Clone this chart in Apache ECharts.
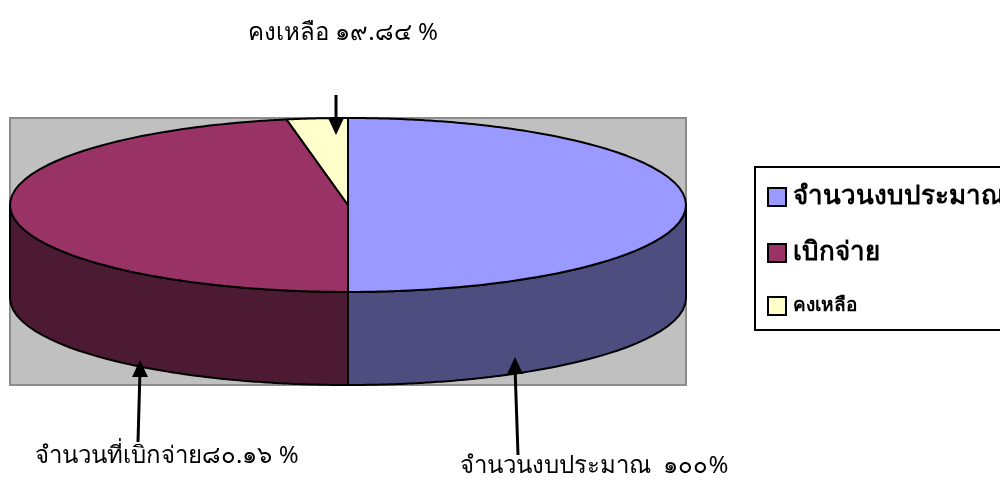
<!DOCTYPE html>
<html>
<head>
<meta charset="utf-8">
<script src="https://cdn.jsdelivr.net/npm/echarts@6/dist/echarts.min.js"></script>
<style>
  html, body { margin: 0; padding: 0; background: #fff; }
  #chart { width: 1000px; height: 483px; }
</style>
</head>
<body>
<div id="chart"></div>
<script>
// data
const categories = ['จำนวนงบประมาณ', 'เบิกจ่าย', 'คงเหลือ'];
const values = [100, 80.16, 19.84];
const annotations = ['จำนวนงบประมาณ  ๑๐๐%', 'จำนวนที่เบิกจ่าย๘๐.๑๖ %', 'คงเหลือ ๑๙.๘๔ %'];

const topColors = ['#9999FF', '#993366', '#FFFFCC'];
const sideColors = ['#4D4D80', '#4D1A33', '#80805F'];
const legendFont = [26, 26, 19];
const fontFamily = 'Tahoma, "Noto Sans", "DejaVu Sans", sans-serif';

const depth = 1.07; // side height, in y units (top face radius = 1)
const total = values.reduce((a, b) => a + b, 0);
const starts = [];
let acc = 0;
values.forEach(v => { starts.push(acc / total * 360); acc += v; });

const chart = echarts.init(document.getElementById('chart'));

// point on the top ellipse for a screen angle (deg, clockwise from top)
const ellipsePt = (deg, rx, ry) => {
  const t = deg * Math.PI / 180;
  const a = Math.sin(t) / rx;
  const b = Math.cos(t) / ry;
  const len = Math.sqrt(a * a + b * b);
  return [a / len, b / len];
};

const arc = (from, to, rx, ry) => {
  const pts = [];
  const n = Math.max(2, Math.ceil(Math.abs(to - from)));
  for (let i = 0; i <= n; i++) {
    pts.push(ellipsePt(from + (to - from) * i / n, rx, ry));
  }
  return pts;
};

const makeSeries = (idx) => ({
  name: categories[idx],
  type: 'custom',
  coordinateSystem: 'cartesian2d',
  itemStyle: { color: topColors[idx] },
  data: [[values[idx], idx]],
  encode: { x: 0, y: 1 },
  renderItem: (params, api) => {
    const i = api.value(1);
    const unit = api.size([1, 1]);
    const rx = unit[0];
    const ry = unit[1];
    const a1 = starts[i];
    const a2 = a1 + api.value(0) / total * 360;
    const children = [];

    // side wall, front half only (90..270)
    const s1 = Math.max(a1, 90);
    const s2 = Math.min(a2, 270);
    if (s2 > s1) {
      const upper = arc(s1, s2, rx, ry);
      const lower = upper.slice().reverse().map(p => [p[0], p[1] - depth]);
      children.push({
        type: 'polygon',
        shape: { points: upper.concat(lower).map(p => api.coord(p)) },
        style: { fill: sideColors[i], stroke: '#000', lineWidth: 2 }
      });
    }

    // top face
    const face = [[0, 0]].concat(arc(a1, a2, rx, ry));
    children.push({
      type: 'polygon',
      shape: { points: face.map(p => api.coord(p)) },
      style: { fill: topColors[i], stroke: '#000', lineWidth: 2, lineJoin: 'round' }
    });

    return { type: 'group', children };
  }
});

const arrow = (x1, y1, x2, y2) => {
  const dir = y2 > y1 ? 1 : -1;
  return [
    {
      type: 'line',
      z: 100,
      shape: { x1, y1, x2, y2: y2 - dir * 10 },
      style: { stroke: '#000', lineWidth: 3 }
    },
    {
      type: 'polygon',
      z: 100,
      shape: { points: [[x2 - 8, y2 - dir * 17], [x2 + 8, y2 - dir * 17], [x2, y2]] },
      style: { fill: '#000' }
    }
  ];
};

chart.setOption({
  animation: false,
  grid: {
    show: true,
    left: 10,
    top: 118,
    width: 676,
    height: 267,
    backgroundColor: '#C0C0C0',
    borderColor: '#8C8C8C',
    borderWidth: 2
  },
  xAxis: { type: 'value', min: -1, max: 1, show: false },
  yAxis: { type: 'value', min: -1 - depth, max: 1, show: false },
  legend: {
    orient: 'vertical',
    left: 755,
    top: 167,
    padding: [17, 40, 14, 12],
    itemGap: 30,
    itemWidth: 18,
    itemHeight: 18,
    icon: 'rect',
    borderColor: '#000',
    borderWidth: 2,
    itemStyle: { borderColor: '#000', borderWidth: 2 },
    formatter: name => {
      const k = categories.indexOf(name);
      return '{s' + k + '|' + name + '}';
    },
    textStyle: {
      color: '#000',
      fontFamily,
      rich: {
        s0: { fontSize: legendFont[0], fontWeight: 'bold', fontFamily, padding: [0, 0, 0, 2] },
        s1: { fontSize: legendFont[1], fontWeight: 'bold', fontFamily, padding: [0, 0, 0, 2] },
        s2: { fontSize: legendFont[2], fontWeight: 'bold', fontFamily, padding: [0, 0, 0, 2] }
      }
    }
  },
  graphic: [
    { type: 'text', z: 100, left: 248, top: 21, style: { text: annotations[2], fontSize: 24, fontFamily, fill: '#000' } },
    { type: 'text', z: 100, left: 35, top: 444, style: { text: annotations[1], fontSize: 24, fontFamily, fill: '#000' } },
    { type: 'text', z: 100, left: 460, top: 454, style: { text: annotations[0], fontSize: 24, fontFamily, fill: '#000' } },
    ...arrow(336, 95, 336, 135),
    ...arrow(138, 442, 140, 360),
    ...arrow(518, 455, 515, 357)
  ],
  series: [0, 1, 2].map(makeSeries)
});
</script>
</body>
</html>
